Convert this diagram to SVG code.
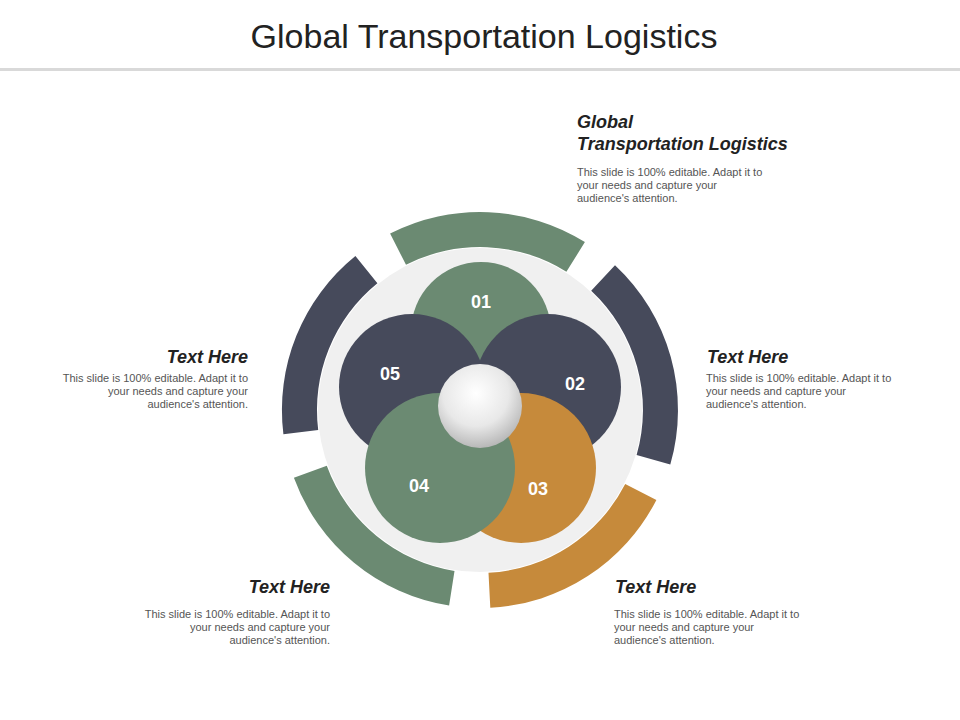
<svg xmlns="http://www.w3.org/2000/svg" width="960" height="720" viewBox="0 0 960 720">
<defs>
<style>
.g{fill:#6b8a72}.d{fill:#464a5b}.o{fill:#c68a3b}
.h{font-family:"Liberation Sans",Arial,sans-serif;font-size:18px;font-weight:bold;font-style:italic;fill:#222}
.b{font-family:"Liberation Sans",Arial,sans-serif;font-size:11px;fill:#555}
.n{font-family:"Liberation Sans",Arial,sans-serif;font-size:18px;font-weight:bold;fill:#fff;text-anchor:middle}
</style>
<radialGradient id="sph" cx="45%" cy="35%" r="65%">
<stop offset="0" stop-color="#ffffff"/><stop offset="0.6" stop-color="#e8e8e8"/><stop offset="1" stop-color="#b8b8b8"/>
</radialGradient>
</defs>
<rect width="960" height="720" fill="#fff"/>
<text x="484" y="48" text-anchor="middle" font-family="Liberation Sans,Arial,sans-serif" font-size="34" fill="#222">Global Transportation Logistics</text>
<rect x="0" y="68" width="960" height="3" fill="#d9d9d9"/>
<circle cx="480" cy="410" r="162" fill="#f0f0f0"/>
<g id="arcs">
<path class="g" d="M390.1,233.6 A198,198 0 0 1 584.9,242.1 L566.4,271.8 A163,163 0 0 0 406.0,264.8 Z"/>
<path class="d" d="M615.0,265.2 A198,198 0 0 1 670.3,464.6 L636.6,455.0 A163,163 0 0 0 591.2,290.8 Z"/>
<path class="o" d="M656.4,499.9 A198,198 0 0 1 490.3,607.8 L488.5,572.8 A163,163 0 0 0 625.2,484.0 Z"/>
<path class="g" d="M449.1,605.6 A198,198 0 0 1 293.9,477.7 L326.8,465.7 A163,163 0 0 0 454.5,571.0 Z"/>
<path class="d" d="M283.4,434.2 A198,198 0 0 1 355.4,256.1 L377.4,283.3 A163,163 0 0 0 318.2,429.9 Z"/>
</g>
<g id="n01"><circle class="g" cx="481" cy="332" r="70"/><text class="n" x="481" y="308">01</text></g>
<g id="n05"><circle class="d" cx="412" cy="387" r="73"/><text class="n" x="390" y="380">05</text></g>
<g id="n02"><circle class="d" cx="548" cy="387" r="73"/><text class="n" x="575" y="390">02</text></g>
<g id="n03"><circle class="o" cx="521" cy="468" r="75"/><text class="n" x="538" y="495">03</text></g>
<g id="n04"><circle class="g" cx="440" cy="468" r="75"/><text class="n" x="419" y="492">04</text></g>
<g id="center"><circle cx="480" cy="406" r="42" fill="url(#sph)"/></g>
<g id="t1"><text class="h" x="577" y="128">Global</text><text class="h" x="577" y="150">Transportation Logistics</text>
<text class="b" x="577" y="176">This slide is 100% editable. Adapt it to</text><text class="b" x="577" y="189">your needs and capture your</text><text class="b" x="577" y="202">audience's attention.</text></g>
<g id="t2"><text class="h" x="707" y="363">Text Here</text>
<text class="b" x="706" y="382">This slide is 100% editable. Adapt it to</text><text class="b" x="706" y="395">your needs and capture your</text><text class="b" x="706" y="408">audience's attention.</text></g>
<g id="t3"><text class="h" x="615" y="593">Text Here</text>
<text class="b" x="614" y="618">This slide is 100% editable. Adapt it to</text><text class="b" x="614" y="631">your needs and capture your</text><text class="b" x="614" y="644">audience's attention.</text></g>
<g id="t4" text-anchor="end"><text class="h" x="330" y="593">Text Here</text>
<text class="b" x="330" y="618">This slide is 100% editable. Adapt it to</text><text class="b" x="330" y="631">your needs and capture your</text><text class="b" x="330" y="644">audience's attention.</text></g>
<g id="t5" text-anchor="end"><text class="h" x="248" y="363">Text Here</text>
<text class="b" x="248" y="382">This slide is 100% editable. Adapt it to</text><text class="b" x="248" y="395">your needs and capture your</text><text class="b" x="248" y="408">audience's attention.</text></g>
</svg>
